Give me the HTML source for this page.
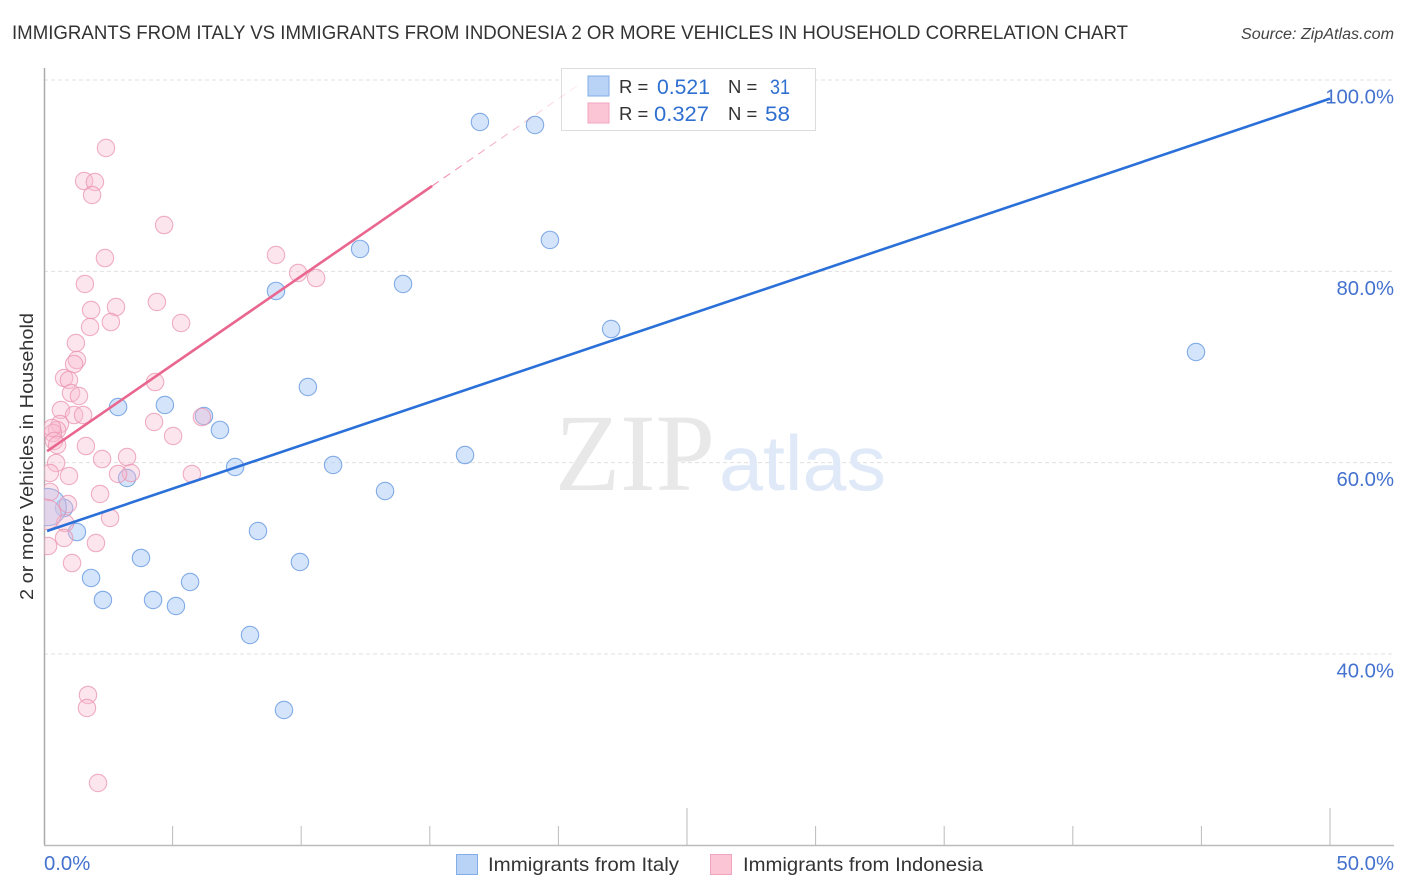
<!DOCTYPE html>
<html lang="en">
<head>
<meta charset="utf-8">
<title>Immigrants from Italy vs Immigrants from Indonesia correlation chart</title>
<style>
html,body{margin:0;padding:0;background:#fff;width:1406px;height:892px;overflow:hidden}
svg{display:block}
text{font-family:"Liberation Sans",sans-serif}
</style>
</head>
<body>
<svg id="chart" xmlns="http://www.w3.org/2000/svg" width="1406" height="892" viewBox="0 0 1406 892">
  <defs>
    <clipPath id="plot-clip"><rect x="44" y="60" width="1350" height="785"/></clipPath>
    <linearGradient id="dash-fade" gradientUnits="userSpaceOnUse" x1="432" y1="186" x2="577" y2="86">
      <stop offset="0" stop-color="#e9668f" stop-opacity="0.85"/>
      <stop offset="1" stop-color="#e9668f" stop-opacity="0.12"/>
    </linearGradient>
  </defs>
  <rect x="0" y="0" width="1406" height="892" fill="#fff"/>
  <text x="12" y="39" font-size="19.5" fill="#333" textLength="1116" lengthAdjust="spacingAndGlyphs">IMMIGRANTS FROM ITALY VS IMMIGRANTS FROM INDONESIA 2 OR MORE VEHICLES IN HOUSEHOLD CORRELATION CHART</text>
  <text x="1241" y="39" font-size="15.5" font-style="italic" fill="#444" textLength="153" lengthAdjust="spacingAndGlyphs">Source: ZipAtlas.com</text>
  <g id="grid"></g>
  <g>
    <text x="555" y="490" font-size="110" fill="#e8e8e8" style="font-family:'Liberation Serif',serif" textLength="160" lengthAdjust="spacingAndGlyphs">ZIP</text>
    <text x="719" y="490" font-size="78" fill="#dfe9f8" textLength="167" lengthAdjust="spacingAndGlyphs">atlas</text>
  </g>
  <g id="axes"></g>
  <text transform="translate(33,456.5) rotate(-90)" font-size="18.5" fill="#333" text-anchor="middle" textLength="287" lengthAdjust="spacingAndGlyphs">2 or more Vehicles in Household</text>
  <g id="points-italy" clip-path="url(#plot-clip)"></g>
  <g id="points-indonesia" clip-path="url(#plot-clip)"></g>
  <g id="trends"></g>
  <g id="tick-labels"></g>
  <g>
    <rect x="561.5" y="68.5" width="254" height="62" fill="#fff" stroke="#ddd" stroke-width="1"/>
    <rect x="588" y="76" width="21" height="20" fill="#b8d3f6" stroke="#82ade8" stroke-width="1"/>
    <rect x="588" y="103" width="21" height="20" fill="#fcc5d6" stroke="#f0a5bd" stroke-width="1"/>
    <text x="619" y="93" font-size="18.5" fill="#333">R =</text>
    <text x="657" y="94" font-size="21" fill="#2f6fd0" textLength="53" lengthAdjust="spacingAndGlyphs">0.521</text>
    <text x="728" y="93" font-size="18.5" fill="#333">N =</text>
    <text x="770" y="94" font-size="21" fill="#2f6fd0" textLength="20" lengthAdjust="spacingAndGlyphs">31</text>
    <text x="619" y="120" font-size="18.5" fill="#333">R =</text>
    <text x="654" y="121" font-size="21" fill="#2f6fd0" textLength="55" lengthAdjust="spacingAndGlyphs">0.327</text>
    <text x="728" y="120" font-size="18.5" fill="#333">N =</text>
    <text x="765" y="121" font-size="21" fill="#2f6fd0" textLength="25" lengthAdjust="spacingAndGlyphs">58</text>
  </g>
  <g id="trend-extension"></g>
  <g>
    <rect x="456.5" y="854.5" width="21" height="20" fill="#b8d3f6" stroke="#82ade8" stroke-width="1"/>
    <text x="488" y="871" font-size="19.5" fill="#333" textLength="191" lengthAdjust="spacingAndGlyphs">Immigrants from Italy</text>
    <rect x="710.5" y="854.5" width="21" height="20" fill="#fcc5d6" stroke="#f0a5bd" stroke-width="1"/>
    <text x="743" y="871" font-size="19.5" fill="#333" textLength="240" lengthAdjust="spacingAndGlyphs">Immigrants from Indonesia</text>
  </g>
</svg>
<script>
const xTicks = [0, 5, 10, 15, 20, 25, 30, 35, 40, 45, 50];
const xMajorTicks = [25, 50];
const xLabelValues = [0, 50];
const xLabelText = ['0.0%', '50.0%'];
const yTicks = [100, 80, 60, 40];
const yTickLabels = ['100.0%', '80.0%', '60.0%', '40.0%'];

const italyX = [16.95, 19.09, 19.67, 12.29, 13.96, 9.02, 22.05, 44.79, 10.26, 2.88, 4.70, 6.22, 6.84, 16.37, 7.43, 11.24, 3.23, 13.26, 0.78, 1.28, 8.32, 3.77, 9.95, 1.83, 5.68, 2.29, 4.24, 5.13, 8.01, 9.33, 0.14];
const italyY = [95.61, 95.30, 83.28, 82.34, 78.68, 77.95, 73.97, 71.57, 67.91, 65.82, 66.03, 64.88, 63.42, 60.80, 59.55, 59.76, 58.40, 57.04, 55.26, 52.75, 52.86, 50.04, 49.62, 47.95, 47.53, 45.65, 45.65, 45.02, 41.99, 34.15, 55.36];
const italyWeight = [1, 1, 1, 1, 1, 1, 1, 1, 1, 1, 1, 1, 1, 1, 1, 1, 1, 1, 1, 1, 1, 1, 1, 1, 1, 1, 1, 1, 1, 1, 4.6];

const indonesiaX = [2.41, 1.56, 1.98, 1.87, 4.67, 2.37, 9.02, 9.88, 10.58, 1.59, 4.39, 1.83, 2.80, 2.60, 1.79, 5.33, 1.24, 1.28, 1.17, 0.78, 0.97, 4.32, 1.05, 1.36, 0.66, 1.17, 1.52, 6.14, 4.28, 5.02, 0.62, 0.51, 0.35, 0.31, 0.39, 0.51, 1.63, 2.26, 3.23, 0.47, 0.23, 0.97, 3.38, 2.88, 5.75, 2.18, 0.23, 0.93, 2.57, 0.82, 0.78, 2.02, 0.16, 1.09, 1.71, 1.67, 2.10, 0.08];
const indonesiaY = [92.89, 89.44, 89.34, 87.98, 84.84, 81.39, 81.71, 79.83, 79.30, 78.68, 76.80, 75.96, 76.27, 74.70, 74.18, 74.60, 72.51, 70.73, 70.31, 68.85, 68.64, 68.43, 67.28, 66.97, 65.51, 64.98, 64.98, 64.77, 64.25, 62.79, 64.04, 63.42, 63.10, 63.63, 62.27, 61.85, 61.74, 60.38, 60.59, 59.97, 58.92, 58.61, 58.92, 58.82, 58.82, 56.73, 56.94, 55.68, 54.22, 53.69, 52.13, 51.60, 51.29, 49.51, 35.72, 34.36, 26.52, 54.6];
const indonesiaWeight = [1, 1, 1, 1, 1, 1, 1, 1, 1, 1, 1, 1, 1, 1, 1, 1, 1, 1, 1, 1, 1, 1, 1, 1, 1, 1, 1, 1, 1, 1, 1, 1, 1, 1, 1, 1, 1, 1, 1, 1, 1, 1, 1, 1, 1, 1, 1, 1, 1, 1, 1, 1, 1, 1, 1, 1, 1, 3];

const italyTrendX = [0.12, 50];
const italyTrendY = [52.86, 98.05];
const indonesiaTrendX = [0.12, 15.09];
const indonesiaTrendY = [61.2, 88.92];
const indonesiaDashX = [15.09, 20.72];
const indonesiaDashY = [88.92, 99.37];

const NS = 'http://www.w3.org/2000/svg';
function xScale(v) { return 44 + v * 25.72; }
function yScale(v) { return 80 + (100 - v) * 9.567; }
function radius(w) { return 8.7 * Math.sqrt(w); }
function make(tag, attrs) {
  const el = document.createElementNS(NS, tag);
  for (const k in attrs) el.setAttribute(k, attrs[k]);
  return el;
}

const gridG = document.getElementById('grid');
const axesG = document.getElementById('axes');
const labelG = document.getElementById('tick-labels');

yTicks.forEach(function (t, i) {
  const line = make('line', { x1: 44, x2: 1394, y1: yScale(t), y2: yScale(t), stroke: '#e0e0e0', 'stroke-width': 1, 'stroke-dasharray': '4 3' });
  
  
  gridG.appendChild(line);
  const label = make('text', { x: 1394, y: yScale(t) + 23.5, 'font-size': 20.3, fill: '#4472cf', 'text-anchor': 'end' });
  label.textContent = yTickLabels[i];
  
  
  labelG.appendChild(label);
});

const yAxis = make('line', { x1: 44.5, x2: 44.5, y1: 68, y2: 845, stroke: '#aaa', 'stroke-width': 1.5 });


axesG.appendChild(yAxis);
const xAxis = make('line', { x1: 44, x2: 1394, y1: 845.5, y2: 845.5, stroke: '#bbb', 'stroke-width': 1.5 });


axesG.appendChild(xAxis);

xTicks.forEach(function (t) {
  if (t === 0) return;
  const top = xMajorTicks.indexOf(t) >= 0 ? 808 : 826;
  const tick = make('line', { x1: xScale(t), x2: xScale(t), y1: top, y2: 845, stroke: '#bbb', 'stroke-width': 1 });
  
  
  axesG.appendChild(tick);
});

xLabelValues.forEach(function (v, i) {
  const atEnd = v === 50;
  const label = make('text', { x: atEnd ? 1394 : 44, y: 870, 'font-size': 20.3, fill: '#4472cf', 'text-anchor': atEnd ? 'end' : 'start' });
  label.textContent = xLabelText[i];
  
  
  labelG.appendChild(label);
});

const italyG = document.getElementById('points-italy');
italyX.forEach(function (v, i) {
  const dot = make('circle', { cx: xScale(v), cy: yScale(italyY[i]), r: radius(italyWeight[i]), fill: 'rgba(176,206,248,0.55)', stroke: '#6f9fe2', 'stroke-width': 1.1, 'stroke-opacity': 0.85 });
  
  
  italyG.appendChild(dot);
});

const indonesiaG = document.getElementById('points-indonesia');
indonesiaX.forEach(function (v, i) {
  const dot = make('circle', { cx: xScale(v), cy: yScale(indonesiaY[i]), r: radius(indonesiaWeight[i]), fill: 'rgba(250,186,208,0.38)', stroke: '#ea94b0', 'stroke-width': 1.1, 'stroke-opacity': 0.75 });
  
  
  indonesiaG.appendChild(dot);
});

const trendG = document.getElementById('trends');
const blueTrend = make('line', { x1: xScale(italyTrendX[0]), y1: yScale(italyTrendY[0]), x2: xScale(italyTrendX[1]), y2: yScale(italyTrendY[1]), stroke: '#2a70d8', 'stroke-width': 2.6 });


trendG.appendChild(blueTrend);
const pinkTrend = make('line', { x1: xScale(indonesiaTrendX[0]), y1: yScale(indonesiaTrendY[0]), x2: xScale(indonesiaTrendX[1]), y2: yScale(indonesiaTrendY[1]), stroke: '#e9668f', 'stroke-width': 2.6 });


trendG.appendChild(pinkTrend);
const extensionG = document.getElementById('trend-extension');
const pinkDash = make('line', { x1: xScale(indonesiaDashX[0]), y1: yScale(indonesiaDashY[0]), x2: xScale(indonesiaDashX[1]), y2: yScale(indonesiaDashY[1]), stroke: 'url(#dash-fade)', 'stroke-width': 1, 'stroke-dasharray': '8 6' });


extensionG.appendChild(pinkDash);
</script>
</body>
</html>
